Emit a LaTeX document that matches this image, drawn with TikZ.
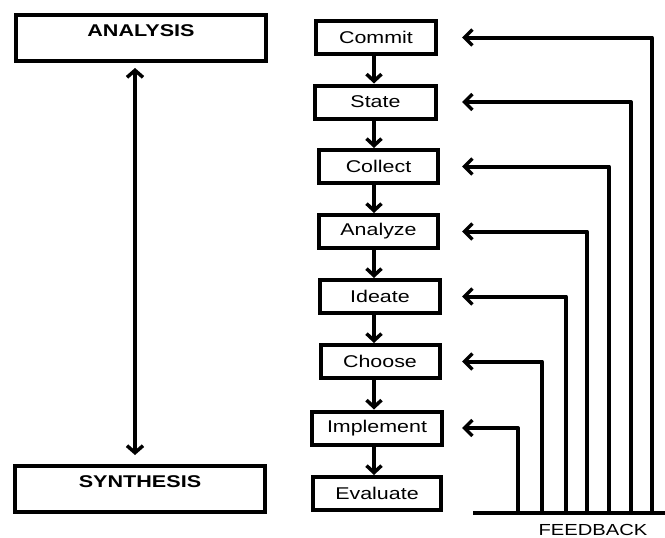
\documentclass[tikz,border=0pt]{standalone}
\usepackage{fontspec}
\setmainfont{Liberation Sans}
\usetikzlibrary{arrows.meta}
\begin{document}
\begin{tikzpicture}[x=1pt,y=-1pt,
  thick line/.style={line width=4pt},
  bigbox/.style={draw,thick line,minimum width=250pt,minimum height=46pt,inner sep=0pt},
  stepbox/.style={draw,thick line,minimum height=33pt,inner sep=0pt,font=\fontsize{17}{20}\selectfont},
  conn/.style={thick line,line join=round,-{Straight Barb[length=7pt,width=15pt,line width=3.5pt]}},
  fbconn/.style={thick line,line join=round,-{Straight Barb[length=8pt,width=16pt,line width=3.5pt]}},
  bothconn/.style={thick line,{Straight Barb[length=7pt,width=16pt,line width=3.5pt]}-{Straight Barb[length=7pt,width=16pt,line width=3.5pt]}},
  lbl/.style={inner sep=0pt,font=\fontsize{17}{20}\selectfont\bfseries}
]
\useasboundingbox (0,0) rectangle (665,538);
% left boxes
\node[bigbox] (ana) at (141,38) {};
\node[bigbox] (syn) at (140,489) {};
\node[lbl] (anat) at ([yshift=-18pt]ana.north) {\scalebox{1.27}[1]{ANALYSIS}};
\node[lbl] (synt) at ([yshift=-18pt]syn.north) {\scalebox{1.27}[1]{SYNTHESIS}};
\draw[bothconn] ([xshift=-6pt,yshift=-5pt]ana.south) -- ([xshift=-5pt,yshift=9pt]syn.north);
% steps
\node[stepbox,minimum width=120pt] (s1) at (376,37.5) {\scalebox{1.26}[1]{Commit}};
\node[stepbox,minimum width=121pt] (s2) at (375.5,102) {\scalebox{1.26}[1]{State}};
\node[stepbox,minimum width=119pt] (s3) at (378.5,166.5) {\scalebox{1.26}[1]{Collect}};
\node[stepbox,minimum width=119pt] (s4) at (378.5,231.5) {\scalebox{1.26}[1]{Analyze}};
\node[stepbox,minimum width=120pt] (s5) at (380,296.5) {\scalebox{1.26}[1]{Ideate}};
\node[stepbox,minimum width=119pt] (s6) at (380,361.5) {\scalebox{1.26}[1]{Choose}};
\node[stepbox,minimum width=130pt] (s7) at (377,428) {\scalebox{1.26}[1]{Implement}};
\node[stepbox,minimum width=128pt] (s8) at (377,493.5) {\scalebox{1.26}[1]{Evaluate}};
\coordinate (ax) at (374,0);
\foreach \a/\b in {s1/s2,s2/s3,s3/s4,s4/s5,s5/s6,s6/s7,s7/s8}
  \draw[conn] (\a.south -| ax) -- (\b.north -| ax);
% feedback
\coordinate (fbl) at (473,513);
\coordinate (fbr) at (665,513);
\draw[thick line] (fbl) -- (fbr);
\node[inner sep=0pt,font=\fontsize{16}{19}\selectfont] (fbt) at (593,530) {\scalebox{1.26}[1]{FEEDBACK}};
\foreach \s/\x in {s1/652,s2/631,s3/609,s4/587,s5/566,s6/542,s7/518}{
  \coordinate (b\s) at (\x,513);
  \coordinate (t\s) at (462,0);
  \draw[fbconn] (b\s) |- (\s.center -| t\s);
}
\end{tikzpicture}
\end{document}
